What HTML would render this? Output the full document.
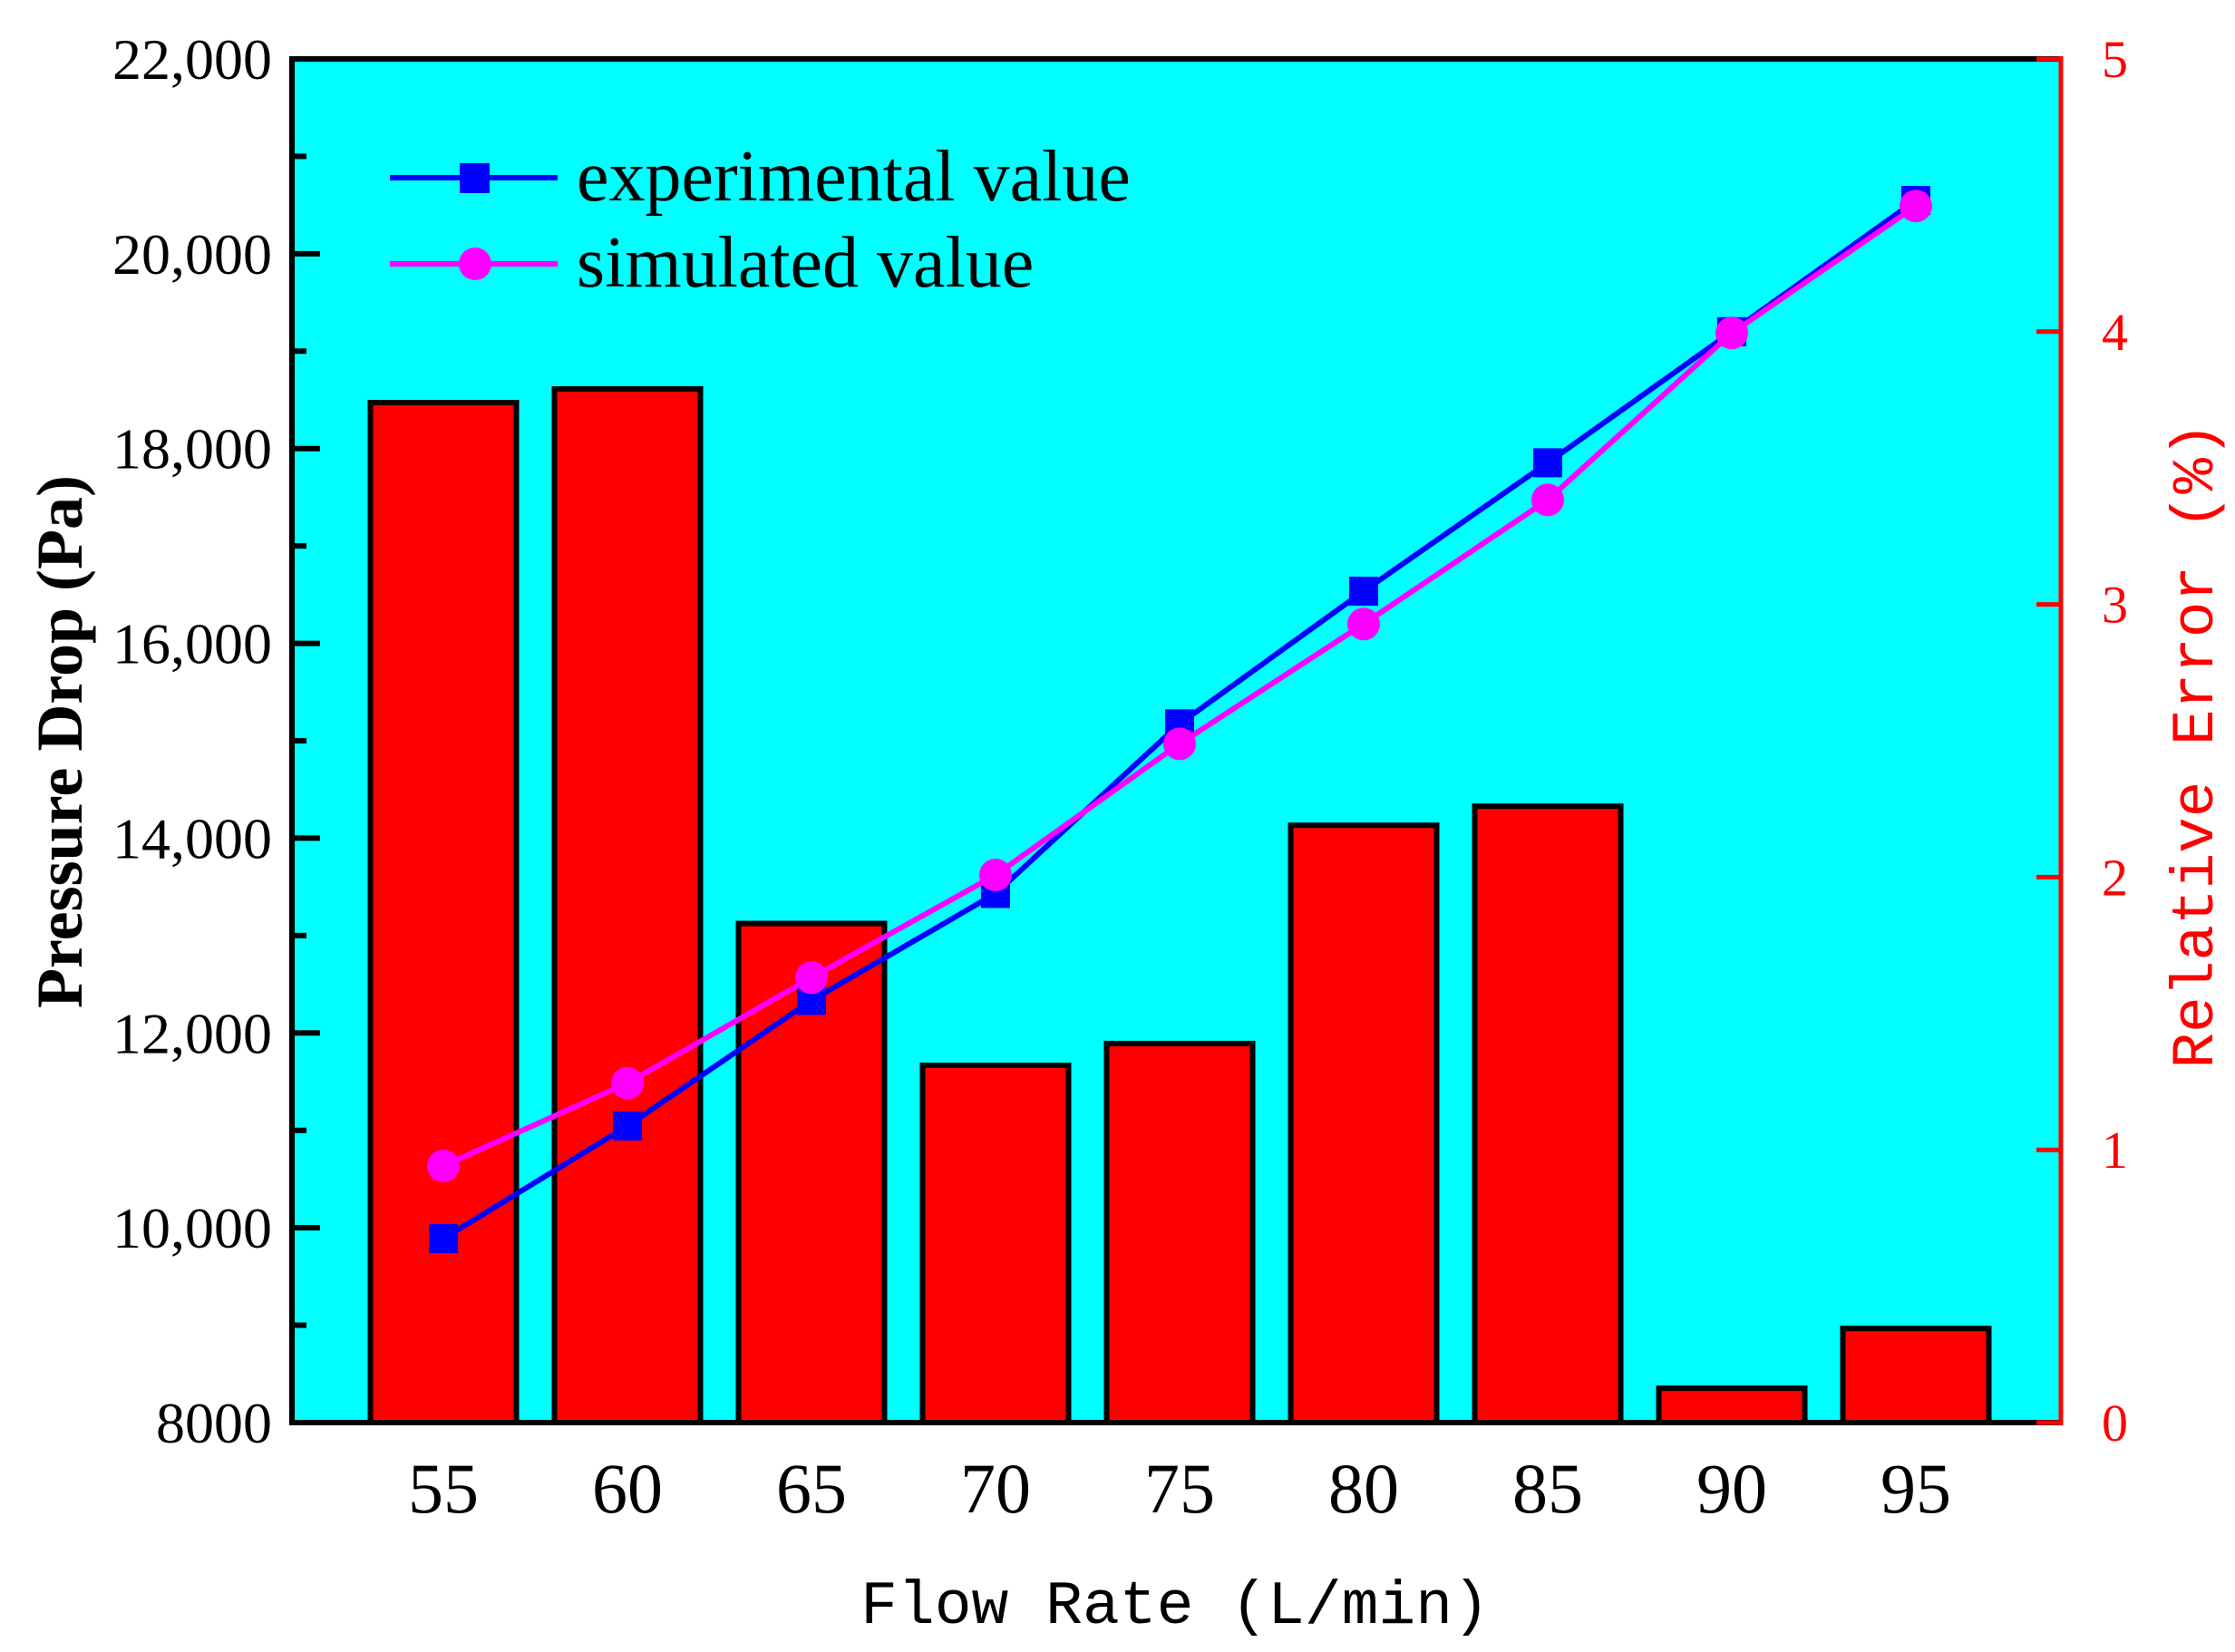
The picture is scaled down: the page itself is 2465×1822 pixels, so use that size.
<!DOCTYPE html>
<html><head><meta charset="utf-8"><style>
html,body{margin:0;padding:0;background:#fff;}
svg{display:block;}
.serif{font-family:"Liberation Serif",serif;}
.mono{font-family:"Liberation Mono",monospace;}
</style></head><body>
<svg id="chart" width="2465" height="1822" viewBox="0 0 2465 1822" xmlns="http://www.w3.org/2000/svg">
<rect x="322" y="65" width="1951" height="1504" fill="#00ffff"/>
<g id="bars"></g>
<g id="lines"></g>
<g id="axes"></g>
<g>
  <line x1="430" y1="196" x2="615" y2="196" stroke="#0000ff" stroke-width="6"/>
  <rect x="507" y="180" width="33" height="33" fill="#0000ff"/>
  <text class="serif" x="636" y="221" font-size="80">experimental value</text>
  <line x1="430" y1="291" x2="615" y2="291" stroke="#ff00ff" stroke-width="6"/>
  <circle cx="524" cy="291" r="18" fill="#ff00ff"/>
  <text class="serif" x="636" y="316" font-size="80">simulated value</text>
</g>
<text class="serif" font-weight="bold" font-size="72" text-anchor="middle" transform="translate(90,818) rotate(-90)">Pressure Drop (Pa)</text>
<text class="mono" font-size="68" text-anchor="middle" x="1296" y="1790">Flow Rate (L/min)</text>
<text class="mono" font-size="66" fill="#ff0000" text-anchor="middle" transform="translate(2440,822) rotate(-90)">Relative Error (%)</text>
</svg>
<script>
const categories = [55, 60, 65, 70, 75, 80, 85, 90, 95];
const relativeError = [3.74, 3.79, 1.83, 1.31, 1.39, 2.19, 2.26, 0.126, 0.345];
const experimental = [9889, 11045, 12334, 13432, 15174, 16536, 17854, 19200, 20548];
const simulated = [10635, 11485, 12568, 13622, 14969, 16199, 17473, 19186, 20490];
const leftTicks = [8000, 10000, 12000, 14000, 16000, 18000, 20000, 22000];
const leftTickLabels = ["8000", "10,000", "12,000", "14,000", "16,000", "18,000", "20,000", "22,000"];
const rightTicks = [0, 1, 2, 3, 4, 5];

const NS = "http://www.w3.org/2000/svg";
const X0 = 322, X1 = 2273, Y0 = 1569, Y1 = 65;
function xScale(v){ return 489 + (v - 55) * 40.6; }
function yLeft(v){ return Y0 - (v - 8000) / 14000 * (Y0 - Y1); }
function yRight(v){ return Y0 - v / 5 * (Y0 - Y1); }
function mk(tag, attrs, parent){
  const e = document.createElementNS(NS, tag);
  for (const k in attrs) e.setAttribute(k, attrs[k]);
  parent.appendChild(e);
  return e;
}
const bars = document.getElementById('bars');
categories.forEach((c, i) => {
  const y = yRight(relativeError[i]);
  const r = mk('rect', {x: xScale(c) - 80.5, y: y, width: 161, height: Y0 - y, fill: '#ff0000', stroke: '#000', 'stroke-width': 6}, bars);
  
  
});
const lines = document.getElementById('lines');
function series(vals, color, name, marker){
  const pts = categories.map((c, i) => xScale(c) + ',' + yLeft(vals[i])).join(' ');
  const pl = mk('polyline', {points: pts, fill: 'none', stroke: color, 'stroke-width': 6}, lines);
  
  
  categories.forEach((c, i) => {
    let m;
    if (marker === 'square') m = mk('rect', {x: xScale(c) - 16, y: yLeft(vals[i]) - 16, width: 32, height: 32, fill: color}, lines);
    else m = mk('circle', {cx: xScale(c), cy: yLeft(vals[i]), r: 18, fill: color}, lines);
    
    
  });
}
series(experimental, '#0000ff', 'experimental', 'square');
series(simulated, '#ff00ff', 'simulated', 'circle');

const axes = document.getElementById('axes');
mk('line', {x1: X0, y1: Y1, x2: X1, y2: Y1, stroke: '#000', 'stroke-width': 6}, axes);
mk('line', {x1: X0, y1: Y0, x2: X1, y2: Y0, stroke: '#000', 'stroke-width': 6}, axes);
mk('line', {x1: X0, y1: Y1 - 3, x2: X0, y2: Y0 + 3, stroke: '#000', 'stroke-width': 6}, axes);
mk('line', {x1: X1, y1: Y1 - 3, x2: X1, y2: Y0 + 3, stroke: '#ff0000', 'stroke-width': 5}, axes);
for (let v = 9000; v < 22000; v += 2000) {
  mk('line', {x1: X0, y1: yLeft(v), x2: X0 + 16, y2: yLeft(v), stroke: '#000', 'stroke-width': 6}, axes);
}
leftTicks.forEach((v, i) => {
  mk('line', {x1: X0, y1: yLeft(v), x2: X0 + 31, y2: yLeft(v), stroke: '#000', 'stroke-width': 6}, axes);
  const t = mk('text', {x: 300, y: yLeft(v) + 22, 'text-anchor': 'end', 'font-size': 64, class: 'serif'}, axes);
  t.textContent = leftTickLabels[i];
  
  
});
rightTicks.forEach(v => {
  mk('line', {x1: X1 - 27, y1: yRight(v), x2: X1, y2: yRight(v), stroke: '#ff0000', 'stroke-width': 5}, axes);
  const t = mk('text', {x: 2318, y: yRight(v) + 20, 'font-size': 58, fill: '#ff0000', class: 'serif'}, axes);
  t.textContent = String(v);
  
  
});
categories.forEach(c => {
  const t = mk('text', {x: xScale(c), y: 1668, 'text-anchor': 'middle', 'font-size': 78, class: 'serif'}, axes);
  t.textContent = String(c);
  
  
});
</script>
</body></html>
